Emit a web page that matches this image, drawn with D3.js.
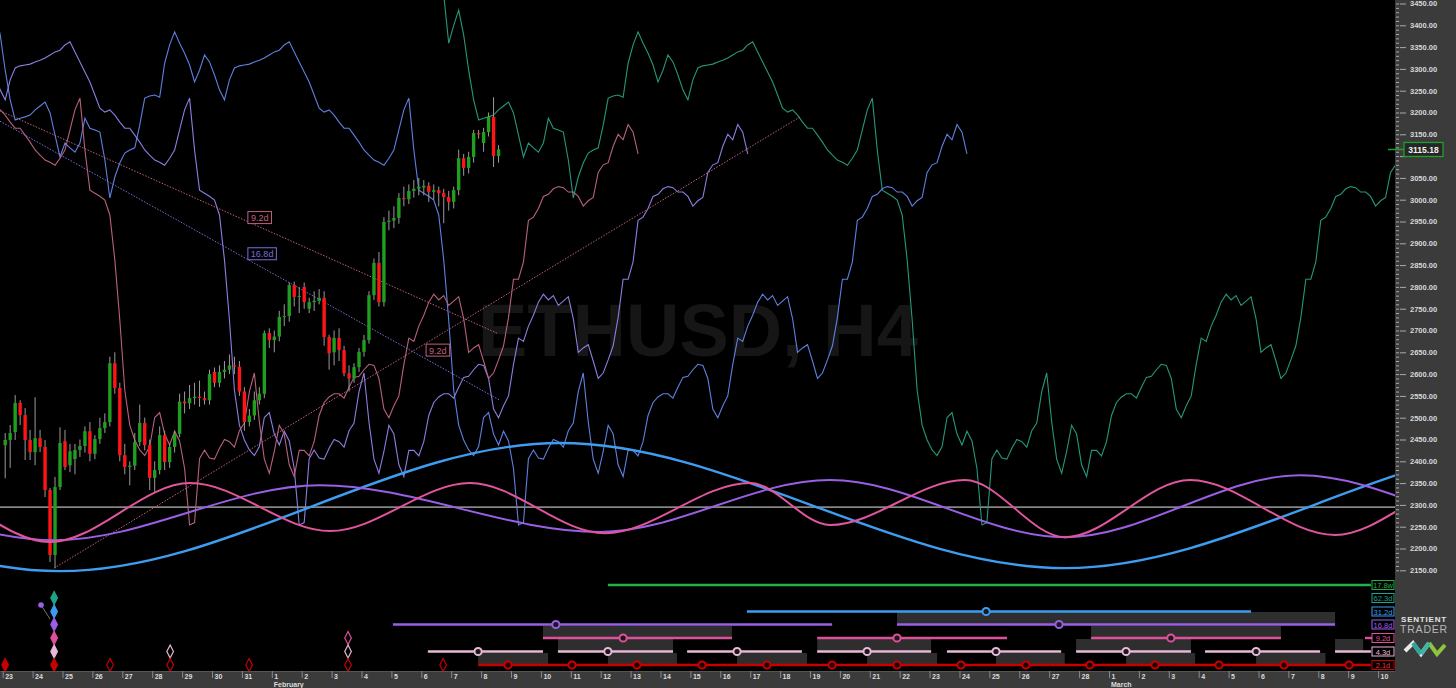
<!DOCTYPE html>
<html><head><meta charset="utf-8">
<script src="https://cdn.jsdelivr.net/npm/d3@7"></script>
<style>
html,body{margin:0;padding:0;background:#000;overflow:hidden;}
svg{display:block;}
text{font-family:"Liberation Sans",Arial,sans-serif;}
</style></head><body>
<svg id="c" width="1456" height="688"></svg>
<script>
// ---------------- DATA ----------------
const chartTitle = "ETHUSD, H4";
const lastPrice = 3115.18;
// H4 candles starting 23 Jan 2022 00:00 UTC
const candleOpen  = [2437,2449,2467,2534,2506,2449,2421,2453,2433,2334,2185,2341,2446,2391,2405,2426,2435,2469,2417,2451,2476,2490,2625,2568,2414,2387,2390,2444,2488,2437,2362,2380,2460,2398,2433,2463,2537,2533,2545,2548,2545,2540,2605,2580,2605,2610,2620,2617,2560,2490,2505,2540,2555,2694,2678,2686,2731,2733,2804,2777,2800,2750,2765,2768,2775,2685,2650,2683,2655,2602,2590,2616,2651,2678,2781,2855,2765,2949,2952,2958,3004,3001,3020,3025,3028,3032,3018,3022,3015,3006,2995,3022,3095,3073,3098,3153,3130,3155,3190,3100];
const candleHigh  = [2465,2483,2552,2540,2522,2472,2547,2472,2449,2339,2364,2478,2472,2440,2440,2450,2480,2490,2460,2500,2510,2640,2650,2580,2440,2400,2465,2530,2500,2450,2400,2480,2470,2440,2470,2555,2560,2575,2580,2585,2560,2610,2615,2620,2630,2645,2640,2630,2570,2520,2560,2570,2700,2705,2700,2745,2760,2810,2812,2800,2810,2775,2790,2795,2790,2690,2700,2705,2665,2620,2625,2660,2690,2790,2865,2880,2960,2975,2985,3015,3030,3035,3045,3050,3045,3040,3035,3030,3025,3020,3030,3115,3105,3110,3160,3160,3165,3200,3235,3125];
const candleLow   = [2361,2385,2449,2483,2403,2403,2391,2421,2318,2169,2155,2334,2380,2375,2370,2410,2420,2400,2405,2440,2465,2480,2555,2400,2370,2345,2380,2435,2425,2334,2330,2370,2380,2385,2420,2455,2510,2520,2530,2525,2530,2530,2570,2570,2590,2600,2600,2550,2470,2480,2495,2530,2545,2660,2650,2675,2710,2720,2755,2740,2750,2740,2745,2760,2665,2610,2620,2630,2595,2560,2580,2605,2640,2670,2770,2755,2755,2930,2935,2945,2985,2990,3005,3010,3010,2995,3000,2985,2946,2975,2980,3010,3055,3060,3085,3140,3110,3145,3075,3085];
const candleClose = [2449,2465,2534,2506,2449,2421,2453,2433,2334,2185,2341,2442,2387,2423,2426,2435,2469,2417,2451,2476,2490,2625,2568,2414,2387,2390,2444,2488,2437,2362,2380,2460,2398,2433,2463,2537,2533,2545,2548,2545,2540,2600,2580,2605,2610,2620,2617,2560,2490,2505,2540,2555,2694,2678,2686,2731,2733,2804,2777,2779,2765,2765,2768,2775,2685,2648,2683,2655,2602,2590,2616,2651,2678,2781,2855,2765,2949,2952,2958,3004,3001,3020,3025,3030,3032,3018,3022,3015,3006,2995,3022,3095,3073,3098,3153,3150,3155,3190,3100,3115.18];
// median prices of the 99 H4 bars before the first candle
const historyMedian = [3470,3359,3400,3435,3378,3297,3229,3183,3187,3190,3194,3206,3215,3224,3199,3148,3098,3130,3119,3109,3130,3187,3164,3160,3155,3091,3004,3052,3084,3107,3114,3119,3171,3233,3238,3240,3235,3313,3355,3385,3359,3336,3309,3270,3297,3332,3316,3286,3252,3229,3275,3302,3307,3309,3311,3316,3320,3325,3332,3339,3343,3355,3362,3339,3316,3293,3270,3240,3210,3201,3206,3194,3178,3164,3164,3148,3132,3114,3102,3091,3086,3079,3095,3114,3160,3206,3233,3114,3022,3015,3008,2999,2965,2862,2724,2563,2483,2449,2426];

// FLD lines (price shifted forward by half a cycle, in H4 bars)
const fldNames  = ["62.3d","31.2d","16.8d","9.2d"];
const fldShift  = [187, 94, 50, 28];
const fldColors = ["#26977c","#5f80e0","#8c7ee0","#b8607e"];

// cycle sine components: extremes (days from 23 Jan, price)
const sine312Days  = [-31.5, -14.8, 1.92, 18.64, 35.53, 52.08, 68.7];
const sine312Price = [2148, 2442, 2148, 2442, 2155, 2442, 2155];
const sine168Days  = [-16.7, -7.45, 1.75, 10.61, 19.98, 27.67, 35.53, 43.39, 51.75, 59.6];
const sine168Price = [2226, 2345, 2219, 2345, 2238, 2357, 2226, 2368, 2226, 2360];
const sine92Days   = [-7.8, -3.10, 1.58, 6.27, 10.95, 15.63, 20.14, 24.99, 27.67, 32.18, 35.53, 39.71, 44.56, 49.07, 53.6];
const sine92Price  = [2230, 2350, 2215, 2350, 2240, 2350, 2235, 2350, 2254, 2357, 2226, 2357, 2231, 2357, 2231];
const sineColors   = ["#3e9df0","#9b5fe6","#e0559c"];
const whiteLevel   = 2295;

// trend lines (VTL)
const trendLabel      = ["9.2d","16.8d","9.2d"];
const trendStartDay   = [-0.09, -0.09, 1.72];
const trendStartPrice = [3204, 3180, 2155];
const trendEndDay     = [16.53, 16.63, 26.67];
const trendEndPrice   = [2694, 2540, 3190];
const trendColors     = ["#c0607e","#7a6ed8","#c0607e"];
const trendLabelDay   = [8.2, 8.2, 14.16];
const trendLabelPrice = [2959, 2876, 2655];

// cycle rows in the lower panel
const cycleNames  = ["17.8w","62.3d","31.2d","16.8d","9.2d","4.3d","2.1d"];
const cycleColors = ["#1fb04a","#1fa38a","#3d9cf0","#9a5fe6","#e0509a","#e8b8d8","#c80000"];
// segments: [row, startDay, endDay, troughDay or null]
const cycleSegments = [
  [0,20.24,45.76,null],
  [2,24.89,41.75,32.89],
  [3,13.05,27.74,18.5],[3,29.91,44.56,35.33],
  [4,18.07,24.39,20.75],[4,27.24,33.59,29.91],[4,36.40,42.75,39.07],[4,45.56,45.8,null],
  [5,14.22,18.07,15.9],[5,18.57,22.42,20.24],[5,22.89,26.73,24.56],[5,27.24,31.05,28.91],[5,31.58,35.40,33.22],[5,35.90,39.74,37.57],[5,40.21,44.06,41.92],[5,44.56,45.76,null],
  [6,15.9,45.76,null]
];
const redTroughDays = [16.9,19.04,21.21,23.39,25.56,27.74,29.91,32.05,34.22,36.36,38.54,40.68,42.85,45.03];
// shaded projection boxes: [band, startDay, endDay]
const projBoxes = [
  [2,29.91,44.56],
  [3,18.07,24.39],[3,36.40,42.75],
  [4,18.57,22.42],[4,27.24,31.05],[4,35.90,39.74],[4,44.56,45.5],
  [5,15.9,18.24],[5,20.24,22.55],[5,24.56,26.90],[5,28.91,31.25],[5,33.22,35.52],[5,37.57,39.88],[5,41.92,44.24]
];
// past trough markers: [row, day, filled]
const troughMarkers = [
  [6,0.08,true],
  [1,1.72,true],[2,1.72,true],[3,1.72,true],[4,1.72,true],[5,1.72,true],[6,1.72,true],
  [6,3.59,false],[5,5.6,false],[6,5.6,false],[6,8.24,false],
  [4,11.55,false],[5,11.55,false],[6,11.55,false],[6,14.73,false]
];

// ---------------- LAYOUT ----------------
const W = 1456, H = 688, plotR = 1395, axisTop = 671;
const rowY = [585, 598, 611.5, 624.5, 638, 651.5, 665];
const bandY = [[0,0],[0,0],[612,625],[626,638],[639,652],[653,664]];

const svg = d3.select("#c");
svg.append("rect").attr("width", W).attr("height", H).attr("fill", "#000");

const t0 = new Date(Date.UTC(2022, 0, 23));
const DAY = 864e5;
const dayT = d => new Date(t0.getTime() + d * DAY);
const x = d3.scaleUtc().domain([t0, dayT(46)]).range([2.7, 1378.1]);
const y = d3.scaleLinear().domain([2150, 3450]).range([570.3, 3.5]);
const barT = b => new Date(t0.getTime() + (b * 4 + 2) * 3600e3);

svg.append("clipPath").attr("id", "pc").append("rect")
  .attr("x", 0).attr("y", 0).attr("width", plotR).attr("height", axisTop);
const plot = svg.append("g").attr("clip-path", "url(#pc)");

// watermark
plot.append("text").attr("x", 478).attr("y", 356).text(chartTitle)
  .attr("font-size", 74).attr("font-weight", "bold").attr("fill", "#161616");

// white level
plot.append("line").attr("x1", 0).attr("x2", plotR)
  .attr("y1", y(whiteLevel)).attr("y2", y(whiteLevel))
  .attr("stroke", "#e8e8e8").attr("stroke-width", 1);

// FLD lines
const medians = historyMedian.concat(candleHigh.map((h, i) => (h + candleLow[i]) / 2));
const firstBar = -historyMedian.length;
const fldLine = d3.line().x(d => d[0]).y(d => d[1]);
fldNames.forEach((n, i) => {
  const pts = medians.map((m, j) => [x(barT(firstBar + j + fldShift[i])), y(m)]);
  plot.append("path").attr("d", fldLine(pts)).attr("fill", "none")
    .attr("stroke", fldColors[i]).attr("stroke-width", 1.1);
});

// trend lines
trendLabel.forEach((lab, i) => {
  plot.append("line")
    .attr("x1", x(dayT(trendStartDay[i]))).attr("y1", y(trendStartPrice[i]))
    .attr("x2", x(dayT(trendEndDay[i]))).attr("y2", y(trendEndPrice[i]))
    .attr("stroke", trendColors[i]).attr("stroke-width", 1).attr("stroke-dasharray", "1.5,1.5");
});

// candles
const bw = 3.4;
const cg = plot.append("g");
candleOpen.forEach((o, i) => {
  const cx = x(barT(i)), c = candleClose[i];
  cg.append("line").attr("x1", cx).attr("x2", cx)
    .attr("y1", y(candleHigh[i])).attr("y2", y(candleLow[i]))
    .attr("stroke", "#9a9a9a").attr("stroke-width", 1);
  const top = y(Math.max(o, c)), bot = y(Math.min(o, c));
  cg.append("rect").attr("x", cx - bw / 2).attr("y", top)
    .attr("width", bw).attr("height", Math.max(1, bot - top))
    .attr("fill", c >= o ? "#1f9e1f" : "#ff1515");
});

// trend labels
trendLabel.forEach((lab, i) => {
  const lx = x(dayT(trendLabelDay[i])), ly = y(trendLabelPrice[i]);
  const w = lab.length * 4.9 + 4;
  plot.append("rect").attr("x", lx).attr("y", ly - 6).attr("width", w).attr("height", 12)
    .attr("fill", "#000").attr("stroke", trendColors[i]).attr("stroke-width", 1);
  plot.append("text").attr("x", lx + w / 2).attr("y", ly + 3.5).attr("text-anchor", "middle")
    .attr("font-size", 9).attr("fill", trendColors[i]).text(lab);
});

// sine components
const sineLine = d3.line().x(d => x(dayT(d[0]))).y(d => y(d[1])).curve(d3.curveMonotoneX);
[[sine312Days, sine312Price], [sine168Days, sine168Price], [sine92Days, sine92Price]].forEach((s, i) => {
  plot.append("path").attr("d", sineLine(s[0].map((d, j) => [d, s[1][j]])))
    .attr("fill", "none").attr("stroke", sineColors[i]).attr("stroke-width", i === 0 ? 2.4 : 2);
});

// lower panel: projection boxes
projBoxes.forEach(b => {
  plot.append("rect").attr("x", x(dayT(b[1]))).attr("y", bandY[b[0]][0])
    .attr("width", x(dayT(b[2])) - x(dayT(b[1]))).attr("height", bandY[b[0]][1] - bandY[b[0]][0])
    .attr("fill", "#2e2e2e");
});
// segments
cycleSegments.forEach(s => {
  plot.append("line").attr("x1", x(dayT(s[1]))).attr("x2", x(dayT(s[2])))
    .attr("y1", rowY[s[0]]).attr("y2", rowY[s[0]])
    .attr("stroke", cycleColors[s[0]]).attr("stroke-width", s[0] === 6 ? 2.6 : 2.4);
  if (s[3] !== null) {
    plot.append("circle").attr("cx", x(dayT(s[3]))).attr("cy", rowY[s[0]]).attr("r", 3.6)
      .attr("fill", "#1a1a1a").attr("stroke", cycleColors[s[0]]).attr("stroke-width", 2);
  }
});
redTroughDays.forEach(d => {
  plot.append("circle").attr("cx", x(dayT(d))).attr("cy", rowY[6]).attr("r", 3.6)
    .attr("fill", "#1a0000").attr("stroke", cycleColors[6]).attr("stroke-width", 2);
});
// past trough diamonds
troughMarkers.forEach(m => {
  const cx = x(dayT(m[1])), cy = rowY[m[0]];
  plot.append("path").attr("d", `M${cx},${cy - 6.5}L${cx + 3.3},${cy}L${cx},${cy + 6.5}L${cx - 3.3},${cy}Z`)
    .attr("fill", m[2] ? cycleColors[m[0]] : "none")
    .attr("stroke", cycleColors[m[0]]).attr("stroke-width", 1.2);
});
// purple pin
plot.append("line").attr("x1", 41).attr("y1", 605).attr("x2", 50).attr("y2", 619)
  .attr("stroke", "#777").attr("stroke-width", 1);
plot.append("circle").attr("cx", 41).attr("cy", 605).attr("r", 2.8).attr("fill", "#9a5fe6");

// cycle name boxes
cycleNames.forEach((n, i) => {
  svg.append("rect").attr("x", 1372).attr("y", rowY[i] - 4.5).attr("width", 22).attr("height", 9)
    .attr("fill", "#000").attr("stroke", cycleColors[i]).attr("stroke-width", 1);
  svg.append("text").attr("x", 1383).attr("y", rowY[i] + 3).attr("text-anchor", "middle")
    .attr("font-size", 7.5).attr("fill", i === 6 ? "#e03030" : cycleColors[i]).text(n);
});

// ---------------- AXES ----------------
svg.append("rect").attr("x", plotR).attr("y", 0).attr("width", W - plotR).attr("height", H).attr("fill", "#3b3b3b");
svg.append("rect").attr("x", 0).attr("y", axisTop).attr("width", plotR).attr("height", H - axisTop).attr("fill", "#3b3b3b");
svg.append("line").attr("x1", 0).attr("x2", plotR).attr("y1", axisTop + 0.5).attr("y2", axisTop + 0.5).attr("stroke", "#555");

// right price axis
const minor = svg.append("g").attr("transform", `translate(${plotR + 1},0)`)
  .call(d3.axisRight(y).tickValues(d3.range(2150, 3451, 10)).tickSize(3).tickFormat(""));
minor.select(".domain").remove();
minor.selectAll("line").attr("stroke", "#aaa");
const yAx = svg.append("g").attr("transform", `translate(${plotR + 5},0)`)
  .call(d3.axisRight(y).tickValues(d3.range(2150, 3451, 50)).tickSize(6).tickPadding(4).tickFormat(d3.format(".2f")));
yAx.select(".domain").remove();
yAx.selectAll("line").attr("stroke", "#aaa");
yAx.selectAll("text").attr("fill", "#d8d8d8").attr("font-size", 7.5).attr("font-weight", "bold")
  .attr("font-family", "'Liberation Sans',Arial,sans-serif")
  .attr("opacity", d => Math.abs(d - lastPrice) < 25 ? 0 : 1);

// last price box
svg.append("line").attr("x1", 1388).attr("x2", 1404).attr("y1", y(lastPrice)).attr("y2", y(lastPrice))
  .attr("stroke", "#1ea02a").attr("stroke-width", 1.5);
svg.append("rect").attr("x", 1404).attr("y", y(lastPrice) - 7).attr("width", 39).attr("height", 14)
  .attr("fill", "#262626").attr("stroke", "#1ea02a").attr("stroke-width", 1.3);
svg.append("text").attr("x", 1423.5).attr("y", y(lastPrice) + 3.5).attr("text-anchor", "middle")
  .attr("font-size", 8.5).attr("font-weight", "bold").attr("fill", "#f0f0f0").text(d3.format(".2f")(lastPrice));

// bottom date axis
const xAx = svg.append("g").attr("transform", `translate(0,${axisTop})`)
  .call(d3.axisBottom(x).ticks(d3.utcDay.every(1)).tickSize(7).tickPadding(0).tickFormat(d3.utcFormat("%-d")));
xAx.select(".domain").remove();
xAx.selectAll("line").attr("stroke", "#8a8a8a");
xAx.selectAll("text").attr("text-anchor", "start").attr("x", 2).attr("dy", 0).attr("y", 8)
  .attr("fill", "#dcdcdc").attr("font-size", 7).attr("font-weight", "bold")
  .attr("font-family", "'Liberation Sans',Arial,sans-serif");
[[new Date(Date.UTC(2022, 1, 1)), "February"], [new Date(Date.UTC(2022, 2, 1)), "March"]].forEach(m => {
  svg.append("text").attr("x", x(m[0]) + 2).attr("y", 687).attr("font-size", 7).attr("font-weight", "bold")
    .attr("fill", "#dcdcdc").text(m[1]);
});

// logo
svg.append("text").attr("x", 1424).attr("y", 622).attr("text-anchor", "middle").attr("font-size", 8)
  .attr("font-weight", "bold").attr("letter-spacing", 0.8).attr("fill", "#e6e6e6").text("SENTIENT");
svg.append("text").attr("x", 1424).attr("y", 633).attr("text-anchor", "middle").attr("font-size", 10.5)
  .attr("letter-spacing", 0.8).attr("fill", "#b8b8b8").text("TRADER");
const lg = svg.append("g").attr("fill", "none").attr("stroke-width", 4).attr("stroke-linejoin", "miter");
lg.append("path").attr("d", "M1405,651L1413,643L1421,654L1429,643").attr("stroke", "#e8e8e8");
lg.append("path").attr("d", "M1413,643L1421,654").attr("stroke", "#2aa59a");
lg.append("path").attr("d", "M1429,643L1437,654L1445,645").attr("stroke", "#8cc63f");
lg.append("path").attr("d", "M1421,654L1429,643").attr("stroke", "#3cb6a0");
</script>
</body></html>
